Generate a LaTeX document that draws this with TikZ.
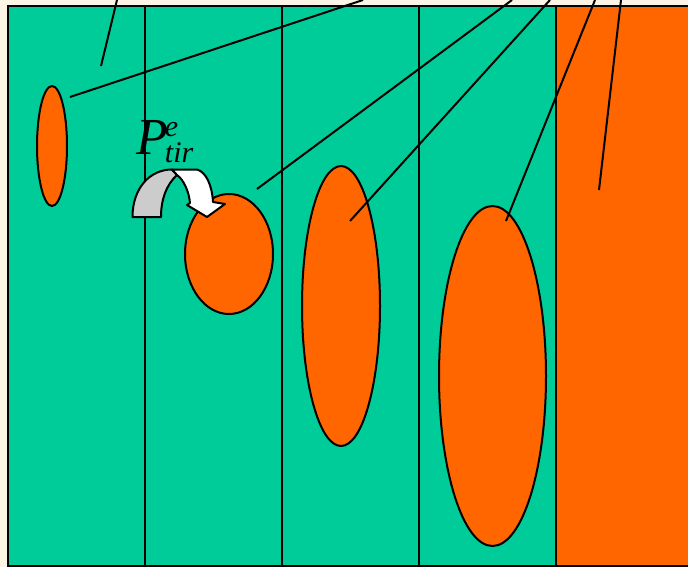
\documentclass[tikz,border=0pt]{standalone}
\usepackage{fontspec}
\setmainfont{Liberation Serif}
\usetikzlibrary{shapes.geometric}
\definecolor{cream}{HTML}{FCF4E4}
\definecolor{teal}{HTML}{00CC99}
\definecolor{orng}{HTML}{FF6600}
\definecolor{lgray}{HTML}{CCCCCC}
\tikzset{
  outl/.style={draw=black, line width=2pt},
  blob/.style={ellipse, draw=black, line width=2pt, fill=orng, inner sep=0pt},
  leader/.style={draw=black, line width=2pt},
}
\begin{document}
\begin{tikzpicture}[x=1pt,y=-1pt]
\fill[cream] (0,0) rectangle (688,567);
\useasboundingbox (0,0) rectangle (688,567);
% regions
\fill[teal] (8,6) rectangle (556,566);
\fill[orng] (556,6) rectangle (688,566);
\draw[outl] (688,6) -- (8,6) -- (8,566) -- (688,566);
\draw[outl] (145,6) -- (145,566);
\draw[outl] (282,6) -- (282,566);
\draw[outl] (419,6) -- (419,566);
\draw[outl] (556,6) -- (556,566);
% ellipses
\node[blob, minimum width=30pt, minimum height=120pt] (e1) at (52,146) {};
\node[blob, minimum width=88pt, minimum height=120pt] (e2) at (229,254) {};
\node[blob, minimum width=78pt, minimum height=280pt] (e3) at (341,306) {};
\node[blob, minimum width=107pt, minimum height=340pt] (e4) at (492.5,376) {};
% leader lines
\coordinate (t1) at (117,0);   \coordinate (p1) at (101,66);
\coordinate (t2) at (363,0);   \coordinate (p2) at (70,97);
\coordinate (t3) at (512,0);   \coordinate (p3) at (257,189);
\coordinate (t4) at (550,0);   \coordinate (p4) at (350,221);
\coordinate (t5) at (595,0);   \coordinate (p5) at (506,221);
\coordinate (t6) at (621,0);   \coordinate (p6) at (599,190);
\draw[leader] (t1) -- (p1);
\draw[leader] (t2) -- (p2);
\draw[leader] (t3) -- (p3);
\draw[leader] (t4) -- (p4);
\draw[leader] (t5) -- (p5);
\draw[leader] (t6) -- (p6);
% curved arrow
\draw[outl, fill=lgray, line join=round]
  (132.5,217) .. controls (132.5,188) and (150,169.5) .. (172,169.5)
  -- (177,175)
  .. controls (166,185) and (161,200) .. (161,217) -- cycle;
\draw[outl, fill=white, line join=round]
  (172,169.5) -- (197,169.5)
  .. controls (206,172) and (212,185) .. (213,202)
  -- (225,204) -- (207,217) -- (187,205) -- (190,203)
  .. controls (189,192) and (184,180) .. (177,175) -- cycle;
% label
\node[anchor=base west, inner sep=0pt] (lbl) at (136,155)
  {\fontsize{52}{52}\selectfont\itshape P\kern-3pt\rlap{\fontsize{30}{30}\selectfont\raisebox{18pt}{e}}\fontsize{30}{30}\selectfont\raisebox{-8pt}{tir}};
\end{tikzpicture}
\end{document}
